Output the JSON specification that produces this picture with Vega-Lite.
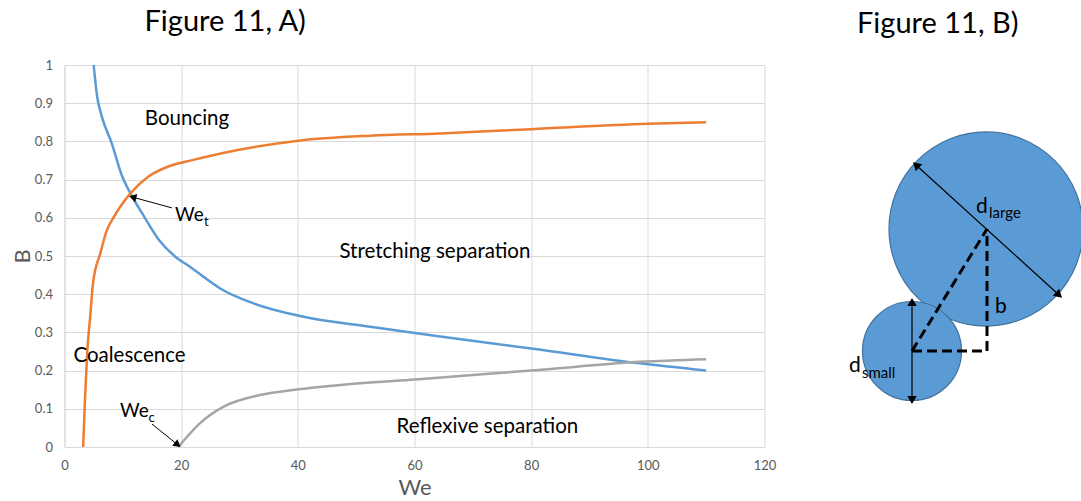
{
  "$schema": "https://vega.github.io/schema/vega-lite/v6.json",
  "background": "white",
  "padding": {"left": 10.5, "top": 8, "right": 0, "bottom": 0},
  "spacing": 53.5,
  "config": {
    "view": {"stroke": null},
    "font": "Lato",
    "title": {"font": "Lato", "fontSize": 29, "fontWeight": "normal", "color": "#000000", "anchor": "start", "frame": "group", "baseline": "alphabetic"},
    "axis": {"labelFont": "Lato", "titleFont": "Lato", "gridColor": "#D9D9D9", "domainColor": "#D9D9D9", "ticks": false, "labelFlush": false, "labelColor": "#595959", "titleColor": "#595959", "labelFontSize": 13, "titleFontSize": 22, "titleFontWeight": "normal"}
  },
  "datasets": {
    "curves": [
      {"curve": "curve1", "We": 5.0, "B": 1.0},
      {"curve": "curve1", "We": 5.6, "B": 0.917},
      {"curve": "curve1", "We": 6.4, "B": 0.865},
      {"curve": "curve1", "We": 8.1, "B": 0.795},
      {"curve": "curve1", "We": 9.9, "B": 0.708},
      {"curve": "curve1", "We": 11.3, "B": 0.664},
      {"curve": "curve1", "We": 13.3, "B": 0.612},
      {"curve": "curve1", "We": 16.2, "B": 0.542},
      {"curve": "curve1", "We": 19.0, "B": 0.498},
      {"curve": "curve1", "We": 21.5, "B": 0.472},
      {"curve": "curve1", "We": 23.8, "B": 0.446},
      {"curve": "curve1", "We": 26.7, "B": 0.415},
      {"curve": "curve1", "We": 32.4, "B": 0.376},
      {"curve": "curve1", "We": 41.0, "B": 0.341},
      {"curve": "curve1", "We": 52.4, "B": 0.315},
      {"curve": "curve1", "We": 64.4, "B": 0.289},
      {"curve": "curve1", "We": 80.0, "B": 0.258},
      {"curve": "curve1", "We": 98.7, "B": 0.219},
      {"curve": "curve1", "We": 110.0, "B": 0.2},
      {"curve": "curve2", "We": 3.2, "B": 0.0},
      {"curve": "curve2", "We": 3.5, "B": 0.12},
      {"curve": "curve2", "We": 3.9, "B": 0.25},
      {"curve": "curve2", "We": 4.4, "B": 0.34},
      {"curve": "curve2", "We": 4.9, "B": 0.43},
      {"curve": "curve2", "We": 6.2, "B": 0.51},
      {"curve": "curve2", "We": 7.2, "B": 0.565},
      {"curve": "curve2", "We": 8.5, "B": 0.603},
      {"curve": "curve2", "We": 9.7, "B": 0.632},
      {"curve": "curve2", "We": 11.3, "B": 0.664},
      {"curve": "curve2", "We": 14.4, "B": 0.708},
      {"curve": "curve2", "We": 17.9, "B": 0.735},
      {"curve": "curve2", "We": 21.9, "B": 0.751},
      {"curve": "curve2", "We": 29.5, "B": 0.777},
      {"curve": "curve2", "We": 40.1, "B": 0.802},
      {"curve": "curve2", "We": 52.4, "B": 0.815},
      {"curve": "curve2", "We": 64.4, "B": 0.821},
      {"curve": "curve2", "We": 80.0, "B": 0.832},
      {"curve": "curve2", "We": 100.0, "B": 0.846},
      {"curve": "curve2", "We": 110.0, "B": 0.85},
      {"curve": "curve3", "We": 19.5, "B": 0.0},
      {"curve": "curve3", "We": 23.2, "B": 0.062},
      {"curve": "curve3", "We": 27.2, "B": 0.105},
      {"curve": "curve3", "We": 33.5, "B": 0.136},
      {"curve": "curve3", "We": 40.1, "B": 0.151},
      {"curve": "curve3", "We": 50.7, "B": 0.167},
      {"curve": "curve3", "We": 60.1, "B": 0.177},
      {"curve": "curve3", "We": 67.8, "B": 0.186},
      {"curve": "curve3", "We": 80.0, "B": 0.2},
      {"curve": "curve3", "We": 98.7, "B": 0.223},
      {"curve": "curve3", "We": 110.0, "B": 0.23}
    ],
    "regions": [
      {"label": "Bouncing", "We": 21.0, "B": 0.843},
      {"label": "Stretching separation", "We": 63.5, "B": 0.496},
      {"label": "Coalescence", "We": 11.15, "B": 0.223},
      {"label": "Reflexive separation", "We": 72.5, "B": 0.0375}
    ],
    "annotations": [
      {"label": "We", "sub": "t", "We": 18.95, "B": 0.592, "subWe": 23.9, "subB": 0.579},
      {"label": "We", "sub": "c", "We": 9.52, "B": 0.079, "subWe": 14.4, "subB": 0.066}
    ],
    "arrows": [
      {"target": "We_t", "fromWe": 18.4, "fromB": 0.626, "We": 11.7, "B": 0.654},
      {"target": "We_c", "fromWe": 15.0, "fromB": 0.06, "We": 19.4, "B": 0.006}
    ],
    "circles": [
      {"circle": "large", "u": 74, "v": 122},
      {"circle": "small", "u": 0, "v": 0}
    ],
    "dashed": [
      {"seg": "centre line", "u": 0, "v": 0, "u2": 75, "v2": 122},
      {"seg": "horizontal", "u": 0, "v": 0, "u2": 75, "v2": 0},
      {"seg": "b", "u": 75, "v": 0, "u2": 75, "v2": 122}
    ],
    "dims": [
      {"dim": "d_large", "u": 4, "v": 186, "u2": 147, "v2": 56},
      {"dim": "d_small", "u": 0, "v": 49, "u2": 0, "v2": -49}
    ],
    "heads": [
      {"head": "large_end", "u": 147, "v": 56},
      {"head": "large_start", "u": 4, "v": 186},
      {"head": "small_top", "u": 0, "v": 49},
      {"head": "small_bottom", "u": 0, "v": -49}
    ],
    "dlabels": [
      {"label": "d", "sub": "large", "u": 64, "v": 138, "su": 77, "sv": 133},
      {"label": "d", "sub": "small", "u": -63, "v": -21, "su": -50, "sv": -27},
      {"label": "b", "sub": "", "u": 83, "v": 38, "su": 83, "sv": 38}
    ]
  },
  "hconcat": [
    {
      "width": 700,
      "height": 382,
      "title": {"text": "Figure 11, A)", "dx": 80, "offset": 22},
      "layer": [
        {
          "data": {"name": "curves"},
          "mark": {"type": "line", "strokeWidth": 2.5, "interpolate": "monotone"},
          "encoding": {
            "x": {"field": "We", "type": "quantitative", "title": "We", "scale": {"domain": [0, 120], "nice": false}, "axis": {"values": [0, 20, 40, 60, 80, 100, 120], "grid": true, "labelPadding": 12, "titlePadding": 5}},
            "y": {"field": "B", "type": "quantitative", "title": "B", "scale": {"domain": [0, 1], "nice": false}, "axis": {"values": [0, 0.1, 0.2, 0.3, 0.4, 0.5, 0.6, 0.7, 0.8, 0.9, 1], "format": "~g", "grid": true, "labelPadding": 12, "titlePadding": 0}},
            "color": {"field": "curve", "type": "nominal", "scale": {"domain": ["curve1", "curve2", "curve3"], "range": ["#5B9BD5", "#ED7D31", "#A5A5A5"]}, "legend": null}
          }
        },
        {
          "data": {"name": "regions"},
          "mark": {"type": "text", "fontSize": 20.5, "align": "center", "baseline": "alphabetic", "color": "#000000", "font": "Lato"},
          "encoding": {
            "x": {"field": "We", "type": "quantitative", "title": "We", "axis": {"values": [0, 20, 40, 60, 80, 100, 120], "grid": true, "labelPadding": 12, "titlePadding": 5}},
            "y": {"field": "B", "type": "quantitative", "title": "B", "axis": {"values": [0, 0.1, 0.2, 0.3, 0.4, 0.5, 0.6, 0.7, 0.8, 0.9, 1], "format": "~g", "grid": true, "labelPadding": 12, "titlePadding": 0}},
            "text": {"field": "label"}
          }
        },
        {
          "data": {"name": "annotations"},
          "mark": {"type": "text", "fontSize": 19, "align": "left", "baseline": "alphabetic", "color": "#000000", "font": "Lato"},
          "encoding": {
            "x": {"field": "We", "type": "quantitative", "title": "We", "axis": {"values": [0, 20, 40, 60, 80, 100, 120], "grid": true, "labelPadding": 12, "titlePadding": 5}},
            "y": {"field": "B", "type": "quantitative", "title": "B", "axis": {"values": [0, 0.1, 0.2, 0.3, 0.4, 0.5, 0.6, 0.7, 0.8, 0.9, 1], "format": "~g", "grid": true, "labelPadding": 12, "titlePadding": 0}},
            "text": {"field": "label"}
          }
        },
        {
          "data": {"name": "annotations"},
          "mark": {"type": "text", "fontSize": 13, "align": "left", "baseline": "alphabetic", "color": "#000000", "font": "Lato"},
          "encoding": {
            "x": {"field": "subWe", "type": "quantitative", "title": "We", "axis": {"values": [0, 20, 40, 60, 80, 100, 120], "grid": true, "labelPadding": 12, "titlePadding": 5}},
            "y": {"field": "subB", "type": "quantitative", "title": "B", "axis": {"values": [0, 0.1, 0.2, 0.3, 0.4, 0.5, 0.6, 0.7, 0.8, 0.9, 1], "format": "~g", "grid": true, "labelPadding": 12, "titlePadding": 0}},
            "text": {"field": "sub"}
          }
        },
        {
          "data": {"name": "arrows"},
          "mark": {"type": "rule", "color": "#000000", "strokeWidth": 1},
          "encoding": {
            "x": {"field": "fromWe", "type": "quantitative", "title": "We", "axis": {"values": [0, 20, 40, 60, 80, 100, 120], "grid": true, "labelPadding": 12, "titlePadding": 5}},
            "y": {"field": "fromB", "type": "quantitative", "title": "B", "axis": {"values": [0, 0.1, 0.2, 0.3, 0.4, 0.5, 0.6, 0.7, 0.8, 0.9, 1], "format": "~g", "grid": true, "labelPadding": 12, "titlePadding": 0}},
            "x2": {"field": "We"},
            "y2": {"field": "B"}
          }
        },
        {
          "data": {"name": "arrows"},
          "transform": [{"filter": "datum.target === 'We_t'"}],
          "mark": {"type": "point", "shape": "triangle-up", "filled": true, "color": "#000000", "opacity": 1, "size": 70, "angle": 285},
          "encoding": {
            "x": {"field": "We", "type": "quantitative", "title": "We", "axis": {"values": [0, 20, 40, 60, 80, 100, 120], "grid": true, "labelPadding": 12, "titlePadding": 5}},
            "y": {"field": "B", "type": "quantitative", "title": "B", "axis": {"values": [0, 0.1, 0.2, 0.3, 0.4, 0.5, 0.6, 0.7, 0.8, 0.9, 1], "format": "~g", "grid": true, "labelPadding": 12, "titlePadding": 0}}
          }
        },
        {
          "data": {"name": "arrows"},
          "transform": [{"filter": "datum.target === 'We_c'"}],
          "mark": {"type": "point", "shape": "triangle-up", "filled": true, "color": "#000000", "opacity": 1, "size": 70, "angle": 128},
          "encoding": {
            "x": {"field": "We", "type": "quantitative", "title": "We", "axis": {"values": [0, 20, 40, 60, 80, 100, 120], "grid": true, "labelPadding": 12, "titlePadding": 5}},
            "y": {"field": "B", "type": "quantitative", "title": "B", "axis": {"values": [0, 0.1, 0.2, 0.3, 0.4, 0.5, 0.6, 0.7, 0.8, 0.9, 1], "format": "~g", "grid": true, "labelPadding": 12, "titlePadding": 0}}
          }
        }
      ]
    },
    {
      "width": 250,
      "height": 382,
      "title": {"text": "Figure 11, B)", "dx": 27, "offset": 26},
      "layer": [
        {
          "data": {"name": "circles"},
          "transform": [{"filter": "datum.circle === 'large'"}],
          "mark": {"type": "point", "shape": "circle", "filled": true, "fill": "#5B9BD5", "stroke": "#41719C", "strokeWidth": 1.2, "opacity": 1, "size": 37636},
          "encoding": {
            "x": {"field": "u", "type": "quantitative", "scale": {"domain": [-82, 168], "nice": false, "zero": false}, "axis": null},
            "y": {"field": "v", "type": "quantitative", "scale": {"domain": [-96, 286], "nice": false, "zero": false}, "axis": null}
          }
        },
        {
          "data": {"name": "circles"},
          "transform": [{"filter": "datum.circle === 'small'"}],
          "mark": {"type": "point", "shape": "circle", "filled": true, "fill": "#5B9BD5", "stroke": "#41719C", "strokeWidth": 1.2, "opacity": 1, "size": 9801},
          "encoding": {
            "x": {"field": "u", "type": "quantitative", "axis": null},
            "y": {"field": "v", "type": "quantitative", "axis": null}
          }
        },
        {
          "data": {"name": "dashed"},
          "mark": {"type": "rule", "color": "#000000", "strokeWidth": 3, "strokeDash": [10, 5]},
          "encoding": {
            "x": {"field": "u", "type": "quantitative", "axis": null},
            "y": {"field": "v", "type": "quantitative", "axis": null},
            "x2": {"field": "u2"},
            "y2": {"field": "v2"}
          }
        },
        {
          "data": {"name": "dims"},
          "mark": {"type": "rule", "color": "#000000", "strokeWidth": 1.2},
          "encoding": {
            "x": {"field": "u", "type": "quantitative", "axis": null},
            "y": {"field": "v", "type": "quantitative", "axis": null},
            "x2": {"field": "u2"},
            "y2": {"field": "v2"}
          }
        },
        {
          "data": {"name": "heads"},
          "transform": [{"filter": "datum.head === 'large_end'"}],
          "mark": {"type": "point", "shape": "triangle-up", "filled": true, "color": "#000000", "opacity": 1, "size": 90, "angle": 132},
          "encoding": {
            "x": {"field": "u", "type": "quantitative", "axis": null},
            "y": {"field": "v", "type": "quantitative", "axis": null}
          }
        },
        {
          "data": {"name": "heads"},
          "transform": [{"filter": "datum.head === 'large_start'"}],
          "mark": {"type": "point", "shape": "triangle-up", "filled": true, "color": "#000000", "opacity": 1, "size": 90, "angle": 312},
          "encoding": {
            "x": {"field": "u", "type": "quantitative", "axis": null},
            "y": {"field": "v", "type": "quantitative", "axis": null}
          }
        },
        {
          "data": {"name": "heads"},
          "transform": [{"filter": "datum.head === 'small_top'"}],
          "mark": {"type": "point", "shape": "triangle-up", "filled": true, "color": "#000000", "opacity": 1, "size": 90, "angle": 0},
          "encoding": {
            "x": {"field": "u", "type": "quantitative", "axis": null},
            "y": {"field": "v", "type": "quantitative", "axis": null}
          }
        },
        {
          "data": {"name": "heads"},
          "transform": [{"filter": "datum.head === 'small_bottom'"}],
          "mark": {"type": "point", "shape": "triangle-up", "filled": true, "color": "#000000", "opacity": 1, "size": 90, "angle": 180},
          "encoding": {
            "x": {"field": "u", "type": "quantitative", "axis": null},
            "y": {"field": "v", "type": "quantitative", "axis": null}
          }
        },
        {
          "data": {"name": "dlabels"},
          "mark": {"type": "text", "fontSize": 21, "align": "left", "baseline": "alphabetic", "color": "#000000", "font": "Lato"},
          "encoding": {
            "x": {"field": "u", "type": "quantitative", "axis": null},
            "y": {"field": "v", "type": "quantitative", "axis": null},
            "text": {"field": "label"}
          }
        },
        {
          "data": {"name": "dlabels"},
          "mark": {"type": "text", "fontSize": 15, "align": "left", "baseline": "alphabetic", "color": "#000000", "font": "Lato"},
          "encoding": {
            "x": {"field": "su", "type": "quantitative", "axis": null},
            "y": {"field": "sv", "type": "quantitative", "axis": null},
            "text": {"field": "sub"}
          }
        }
      ]
    }
  ]
}
